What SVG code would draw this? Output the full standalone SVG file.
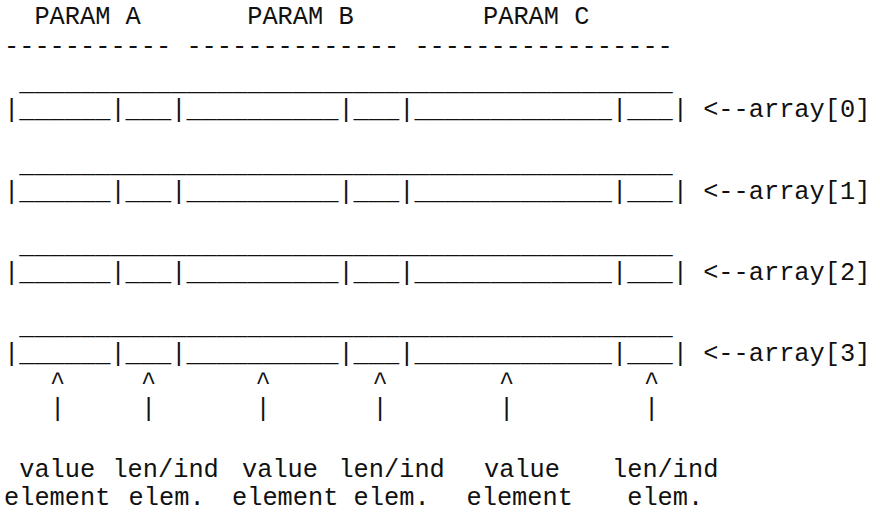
<svg xmlns="http://www.w3.org/2000/svg" width="880" height="514" viewBox="0 0 880 514">
<style>
  .t { font-family: "Liberation Mono", "Courier New", monospace; font-size: 25.33px; fill: #111; white-space: pre; }
  .m { text-anchor: middle; }
</style>
<rect x="0" y="0" width="880" height="514" fill="#fff"/>
<g id="header">
  <text class="t" x="34.4" y="24">PARAM A</text>
  <text class="t" x="247.2" y="24">PARAM B</text>
  <text class="t" x="483" y="24">PARAM C</text>
  <text class="t" x="4" y="54.25">-----------</text>
  <text class="t" x="186.4" y="54.25">--------------</text>
  <text class="t" x="414.4" y="54.25">-----------------</text>
</g>
<g id="array0">
  <text class="t" x="19.2" y="89.75">___________________________________________</text>
  <text class="t" x="4" y="116.75">|______|___|__________|___|_____________|___| &lt;--array[0]</text>
</g>
<g id="array1">
  <text class="t" x="19.2" y="171.75">___________________________________________</text>
  <text class="t" x="4" y="198.75">|______|___|__________|___|_____________|___| &lt;--array[1]</text>
</g>
<g id="array2">
  <text class="t" x="19.2" y="252.75">___________________________________________</text>
  <text class="t" x="4" y="279.75">|______|___|__________|___|_____________|___| &lt;--array[2]</text>
</g>
<g id="array3">
  <text class="t" x="19.2" y="333.75">___________________________________________</text>
  <text class="t" x="4" y="360.75">|______|___|__________|___|_____________|___| &lt;--array[3]</text>
</g>
<g id="connectors">
  <text class="t m" x="57.5" y="390.25">^</text>
  <text class="t m" x="148.5" y="390.25">^</text>
  <text class="t m" x="263" y="390.25">^</text>
  <text class="t m" x="380" y="390.25">^</text>
  <text class="t m" x="506.7" y="390.25">^</text>
  <text class="t m" x="651.7" y="390.25">^</text>
  <text class="t m" x="57.5" y="415.5">|</text>
  <text class="t m" x="148.5" y="415.5">|</text>
  <text class="t m" x="263" y="415.5">|</text>
  <text class="t m" x="380" y="415.5">|</text>
  <text class="t m" x="506.7" y="415.5">|</text>
  <text class="t m" x="651.7" y="415.5">|</text>
</g>
<g id="labels">
  <text class="t" x="19.2" y="476.75">value</text>
  <text class="t" x="112.4" y="476.75">len/ind</text>
  <text class="t" x="242" y="476.75">value</text>
  <text class="t" x="338.4" y="476.75">len/ind</text>
  <text class="t" x="484" y="476.75">value</text>
  <text class="t" x="612" y="476.75">len/ind</text>
  <text class="t" x="4" y="504.5">element</text>
  <text class="t" x="128.6" y="504.5">elem.</text>
  <text class="t" x="232" y="504.5">element</text>
  <text class="t" x="353.6" y="504.5">elem.</text>
  <text class="t" x="466.5" y="504.5">element</text>
  <text class="t" x="627.2" y="504.5">elem.</text>
</g>
</svg>
